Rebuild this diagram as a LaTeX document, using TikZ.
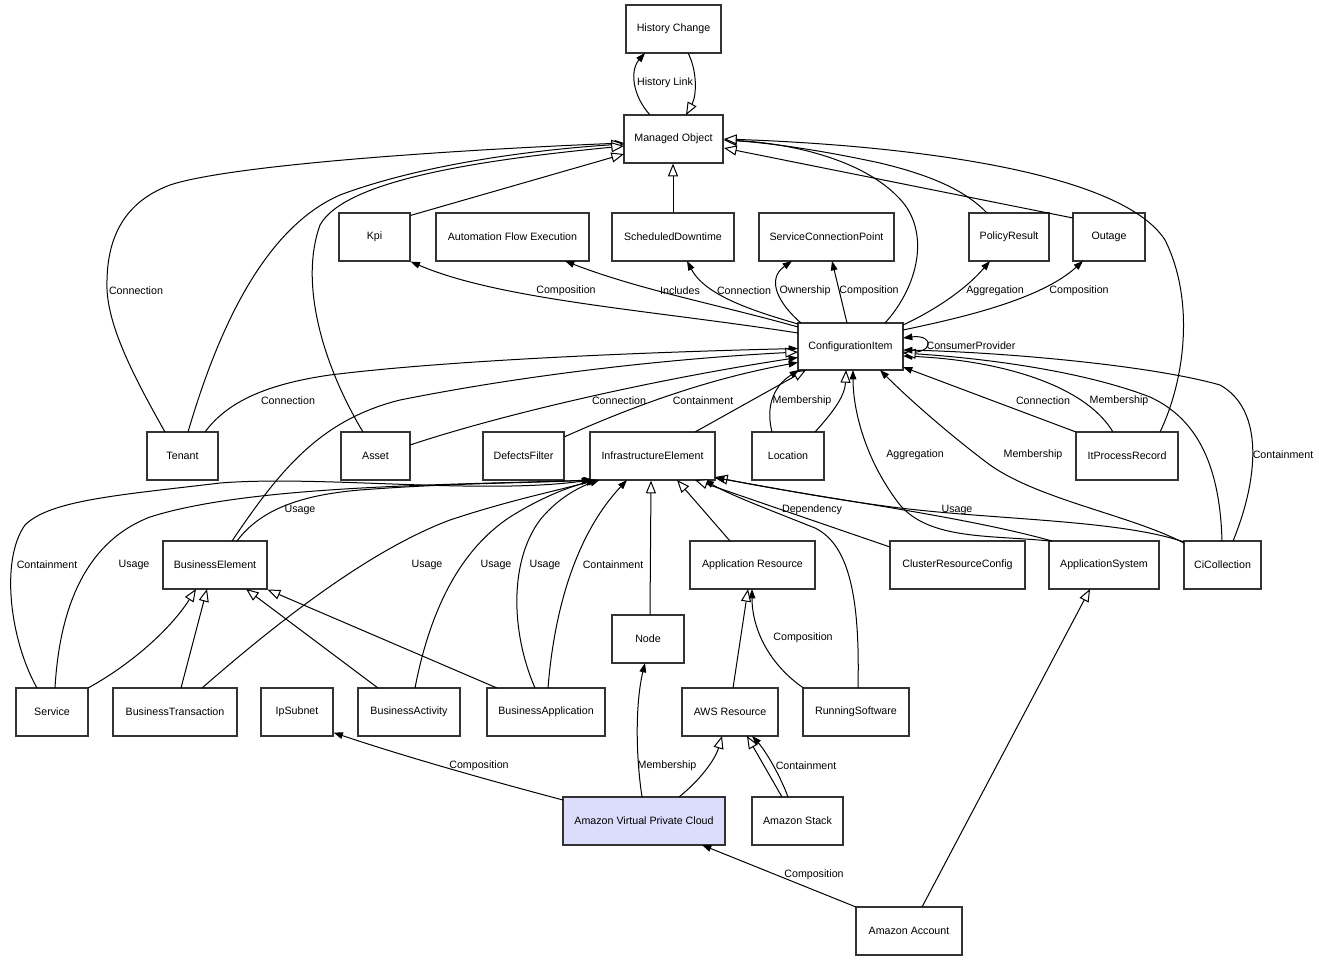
\documentclass[tikz,border=0pt]{standalone}
\usepackage{fontspec}
\setmainfont{Liberation Sans}
\usetikzlibrary{arrows.meta,calc}
\definecolor{vpcfill}{RGB}{220,220,252}
\tikzset{
  box/.style={draw=black!80, line width=0.9pt, minimum height=36pt, inner sep=0pt, fill=white, font=\fontsize{8}{9.6}\selectfont},
  bw/.style={minimum width=#1*0.75pt},
  lbl/.style={inner sep=0pt, font=\fontsize{8}{9.6}\selectfont},
  assoc/.style={draw=black, line width=0.75pt, -{Triangle[length=7pt,width=5pt]}},
  inh/.style={draw=black, line width=0.75pt, -{Triangle[fill=white,length=9.5pt,width=7.5pt]}}
}
\begin{document}
\begin{tikzpicture}[x=0.75pt,y=-0.75pt]
\fill[white] (0,0) rectangle (1319,961);
\useasboundingbox (0,0) rectangle (1319,961);
% nodes
\node[box,bw=95] (hc) at (673.5,29) {History Change};
\node[box,bw=99] (mo) at (673.5,139) {Managed Object};
\node[box,bw=71] (kpi) at (374.5,237) {Kpi};
\node[box,bw=153] (afe) at (512.5,237) {Automation Flow Execution};
\node[box,bw=122] (sd) at (673,237) {ScheduledDowntime};
\node[box,bw=135] (scp) at (826.5,237) {ServiceConnectionPoint};
\node[box,bw=80] (pr) at (1009,237) {PolicyResult};
\node[box,bw=72] (out) at (1109,237) {Outage};
\node[box,bw=105,minimum height=35.25pt] (ci) at (850.5,346.5) {ConfigurationItem};
\node[box,bw=71] (ten) at (182.5,456) {Tenant};
\node[box,bw=69] (asset) at (375.5,456) {Asset};
\node[box,bw=81] (df) at (523.5,456) {DefectsFilter};
\node[box,bw=125] (ie) at (652.5,456) {InfrastructureElement};
\node[box,bw=72] (loc) at (788,456) {Location};
\node[box,bw=102] (ipr) at (1127,456) {ItProcessRecord};
\node[box,bw=104] (be) at (215,565) {BusinessElement};
\node[box,bw=125] (ar) at (752.5,565) {Application Resource};
\node[box,bw=135] (crc) at (957.5,565) {ClusterResourceConfig};
\node[box,bw=110] (as) at (1104,565) {ApplicationSystem};
\node[box,bw=77] (cic) at (1222.5,565) {CiCollection};
\node[box,bw=72] (node) at (648,639) {Node};
\node[box,bw=72] (svc) at (52,712) {Service};
\node[box,bw=124] (bt) at (175,712) {BusinessTransaction};
\node[box,bw=72] (ip) at (297,712) {IpSubnet};
\node[box,bw=102] (ba) at (409,712) {BusinessActivity};
\node[box,bw=118] (bapp) at (546,712) {BusinessApplication};
\node[box,bw=96] (aws) at (730,712) {AWS Resource};
\node[box,bw=106] (rs) at (856,712) {RunningSoftware};
\node[box,bw=162,fill=vpcfill] (vpc) at (644,821) {Amazon Virtual Private Cloud};
\node[box,bw=91] (stack) at (797.5,821) {Amazon Stack};
\node[box,bw=106] (acct) at (909,931) {Amazon Account};
% history
\draw[assoc] ($(mo)+(-23.5,-24)$) .. controls (632,95) and (630,70) .. ($(hc)+(-28.5,24)$);
\draw[inh] ($(hc)+(14.5,24)$) .. controls (697,70) and (697,95) .. ($(mo)+(12.5,-24)$);
% into managed object
\draw[assoc] ($(ten)+(-17.5,-24)$) .. controls (130,370) and (105,320) .. (107,280) .. controls (108,230) and (130,200) .. (170,185) .. controls (230,165) and (450,150) .. ($(mo)+(-49.5,4)$);
\draw[inh] ($(ten)+(5.5,-24)$) .. controls (215,340) and (260,230) .. (340,195) .. controls (420,165) and (530,150) .. ($(mo)+(-49.5,5)$);
\draw[inh] ($(asset)+(-12.5,-24)$) .. controls (320,360) and (300,280) .. (320,225) .. controls (345,180) and (480,160) .. ($(mo)+(-49.5,7)$);
\draw[inh] ($(kpi.north east)+(0,3)$) -- ($(mo)+(-49.5,15)$);
\draw[inh] (sd.north) -- (sd.north |- mo.south);
\draw[inh] ($(ci)+(34.5,-23.5)$) .. controls (915,290) and (930,240) .. (905,205) .. controls (870,160) and (790,143) .. ($(mo)+(50.5,1)$);
\draw[inh] ($(pr)+(-22,-24)$) .. controls (965,190) and (930,175) .. (880,163) .. controls (820,150) and (770,143) .. ($(mo)+(50.5,1)$);
\draw[inh] ($(out)+(-36,-19)$) -- ($(mo)+(50.5,9)$);
\draw[inh] ($(ipr)+(33,-24)$) .. controls (1185,380) and (1195,300) .. (1165,240) .. controls (1120,170) and (900,145) .. ($(mo)+(50.5,0)$);
% out of configuration item
\draw[assoc] ($(ci)+(-52.5,-13.5)$) .. controls (650,310) and (500,300) .. (kpi.south east);
\draw[assoc] ($(ci)+(-52.5,-19.5)$) .. controls (720,305) and (640,290) .. ($(afe)+(52.5,24)$);
\draw[assoc] ($(ci)+(-52.5,-22.5)$) .. controls (750,310) and (705,295) .. ($(sd)+(14,24)$);
\draw[assoc] ($(ci)+(-49.5,-23.5)$) .. controls (780,305) and (765,280) .. ($(scp)+(-34.5,24)$);
\draw[assoc] ($(ci)+(-3.5,-23.5)$) -- ($(scp)+(5.5,24)$);
\draw[assoc] ($(ci)+(52.5,-21.5)$) .. controls (935,310) and (965,290) .. ($(pr)+(-19,24)$);
\draw[assoc] ($(ci)+(52.5,-16.5)$) .. controls (960,318) and (1040,300) .. ($(out)+(-26,24)$);
\draw[assoc] ($(ci)+(52.5,5.5)$) .. controls (935,356) and (935,334) .. ($(ci)+(52.5,-8.5)$);
% into configuration item
\draw[assoc] ($(ten)+(22.5,-24)$) .. controls (225,405) and (260,385) .. (330,375) .. controls (450,360) and (650,352) .. ($(ci)+(-52.5,2)$);
\draw[inh] ($(be)+(17,-24)$) .. controls (280,470) and (320,420) .. (400,400) .. controls (550,370) and (700,357) .. ($(ci)+(-52.5,5.5)$);
\draw[assoc] ($(asset)+(34.5,-11)$) .. controls (500,415) and (650,380) .. ($(ci)+(-52.5,11)$);
\draw[assoc] ($(df)+(40.5,-19)$) .. controls (620,412) and (700,380) .. ($(ci)+(-52.5,16)$);
\draw[inh] ($(ie)+(42.5,-24)$) -- ($(ci)+(-44.5,23.5)$);
\draw[assoc] ($(loc)+(-16,-24)$) .. controls (765,405) and (775,385) .. ($(ci)+(-51.5,23.5)$);
\draw[inh] ($(loc)+(27,-24)$) .. controls (835,410) and (845,395) .. ($(ci)+(-4.5,23.5)$);
\draw[assoc] ($(as)+(-54,-24)$) .. controls (990,535) and (930,540) .. (900,505) .. controls (865,460) and (853,410) .. ($(ci)+(2.5,23.5)$);
\draw[assoc] ($(cic)+(-38.5,-22)$) .. controls (1130,515) and (1040,500) .. (990,465) .. controls (950,435) and (910,400) .. ($(ci)+(29.5,23.5)$);
\draw[assoc] ($(ipr)+(-51,-24)$) -- ($(ci)+(52.5,20.5)$);
\draw[assoc] ($(ipr)+(-14,-24)$) .. controls (1085,385) and (1000,360) .. ($(ci)+(52.5,9.5)$);
\draw[inh] ($(cic)+(-0.5,-24)$) .. controls (1220,470) and (1200,420) .. (1150,397) .. controls (1080,370) and (980,358) .. ($(ci)+(52.5,6.5)$);
\draw[assoc] ($(cic)+(10.5,-24)$) .. controls (1258,480) and (1265,410) .. (1220,385) .. controls (1150,365) and (1000,352) .. ($(ci)+(52.5,3.5)$);
% into infrastructure element
\draw[assoc] ($(svc)+(-15,-24)$) .. controls (10,640) and (0,560) .. (25,525) .. controls (50,500) and (120,495) .. (220,483) .. controls (320,475) and (480,495) .. ($(ie)+(-61.5,24)$);
\draw[assoc] ($(svc)+(3,-24)$) .. controls (60,600) and (90,540) .. (150,517) .. controls (250,485) and (450,485) .. ($(ie)+(-60.5,24)$);
\draw[assoc] ($(be)+(22,-24)$) .. controls (260,510) and (300,495) .. (360,490) .. controls (450,483) and (530,483) .. ($(ie)+(-59,24)$);
\draw[assoc] ($(bt)+(27,-24)$) .. controls (280,620) and (370,550) .. (450,520) .. controls (510,500) and (560,490) .. ($(ie)+(-57,24)$);
\draw[assoc] ($(ba)+(6,-24)$) .. controls (430,610) and (460,550) .. (510,517) .. controls (545,495) and (575,485) .. ($(ie)+(-55,24)$);
\draw[assoc] ($(bapp)+(-11,-24)$) .. controls (510,630) and (510,560) .. (540,520) .. controls (560,495) and (585,485) .. ($(ie)+(-53,24)$);
\draw[assoc] ($(bapp)+(2,-24)$) .. controls (555,600) and (580,530) .. ($(ie)+(-25.5,24)$);
\draw[inh] ($(node.north)+(2,0)$) -- ($(ie.south)+(-1.5,0)$);
\draw[inh] ($(ar)+(-22.5,-24)$) -- ($(ie)+(24.5,24)$);
\draw[assoc] ($(rs)+(2,-24)$) .. controls (860,600) and (850,545) .. (815,528) .. controls (770,510) and (730,495) .. ($(ie)+(52,24)$);
\draw[inh] ($(crc)+(-67.5,-18)$) -- ($(ie)+(42.5,24)$);
\draw[inh] ($(as)+(-52,-24)$) .. controls (960,515) and (800,495) .. ($(ie)+(62.5,21)$);
\draw[assoc] ($(cic)+(-38.5,-23)$) .. controls (1120,520) and (1000,520) .. (900,508) .. controls (820,498) and (760,485) .. ($(ie)+(62.5,22)$);
% into business element
\draw[inh] ($(svc)+(36,-24)$) .. controls (130,665) and (170,630) .. ($(be)+(-19,24)$);
\draw[inh] ($(bt)+(6,-24)$) -- ($(be)+(-8,24)$);
\draw[inh] ($(ba)+(-31,-24)$) -- ($(be)+(31,24)$);
\draw[inh] ($(bapp)+(-49,-24)$) -- (be.south east);
% application resource
\draw[inh] ($(aws)+(3,-24)$) -- ($(ar)+(-4.5,24)$);
\draw[assoc] ($(rs)+(-52.5,-24)$) .. controls (770,665) and (752,630) .. ($(ar)+(-0.5,24)$);
% amazon
\draw[assoc] ($(vpc)+(-2,-24)$) .. controls (635,750) and (636,700) .. ($(node)+(-3,24)$);
\draw[inh] ($(vpc)+(35,-24)$) .. controls (700,780) and (715,760) .. ($(aws)+(-8,24)$);
\draw[inh] ($(stack)+(-15.5,-24)$) -- ($(aws)+(17,24)$);
\draw[assoc] ($(stack)+(-9.5,-24)$) .. controls (780,775) and (765,750) .. ($(aws)+(22,24)$);
\draw[assoc] ($(vpc)+(-81,-21)$) .. controls (480,778) and (400,755) .. ($(ip.south east)+(0,-4)$);
\draw[assoc] ($(acct)+(-53,-24)$) -- ($(vpc)+(58,24)$);
\draw[inh] ($(acct)+(13,-24)$) -- ($(as)+(-14,24)$);
% labels
\node[lbl] (l01) at (665,83) {History Link};
\node[lbl] (l02) at (136,291) {Connection};
\node[lbl] (l03) at (566,291) {Composition};
\node[lbl] (l04) at (680,291) {Includes};
\node[lbl] (l05) at (744,291) {Connection};
\node[lbl] (l06) at (805,291) {Ownership};
\node[lbl] (l07) at (869,291) {Composition};
\node[lbl] (l08) at (995,291) {Aggregation};
\node[lbl] (l09) at (1079,291) {Composition};
\node[lbl] (l10) at (971,346) {ConsumerProvider};
\node[lbl] (l11) at (288,401) {Connection};
\node[lbl] (l12) at (619,401) {Connection};
\node[lbl] (l13) at (703,401) {Containment};
\node[lbl] (l14) at (802,401) {Membership};
\node[lbl] (l15) at (1043,401) {Connection};
\node[lbl] (l16) at (1119,401) {Membership};
\node[lbl] (l17) at (915,455) {Aggregation};
\node[lbl] (l18) at (1033,455) {Membership};
\node[lbl] (l19) at (1283,455) {Containment};
\node[lbl] (l20) at (300,510) {Usage};
\node[lbl] (l21) at (812,510) {Dependency};
\node[lbl] (l22) at (957,510) {Usage};
\node[lbl] (l23) at (47,565) {Containment};
\node[lbl] (l24) at (134,565) {Usage};
\node[lbl] (l25) at (427,565) {Usage};
\node[lbl] (l26) at (496,565) {Usage};
\node[lbl] (l27) at (545,565) {Usage};
\node[lbl] (l28) at (613,565) {Containment};
\node[lbl] (l29) at (803,638) {Composition};
\node[lbl] (l30) at (479,766) {Composition};
\node[lbl] (l31) at (667,766) {Membership};
\node[lbl] (l32) at (806,766) {Containment};
\node[lbl] (l33) at (814,875) {Composition};
\end{tikzpicture}
\end{document}
